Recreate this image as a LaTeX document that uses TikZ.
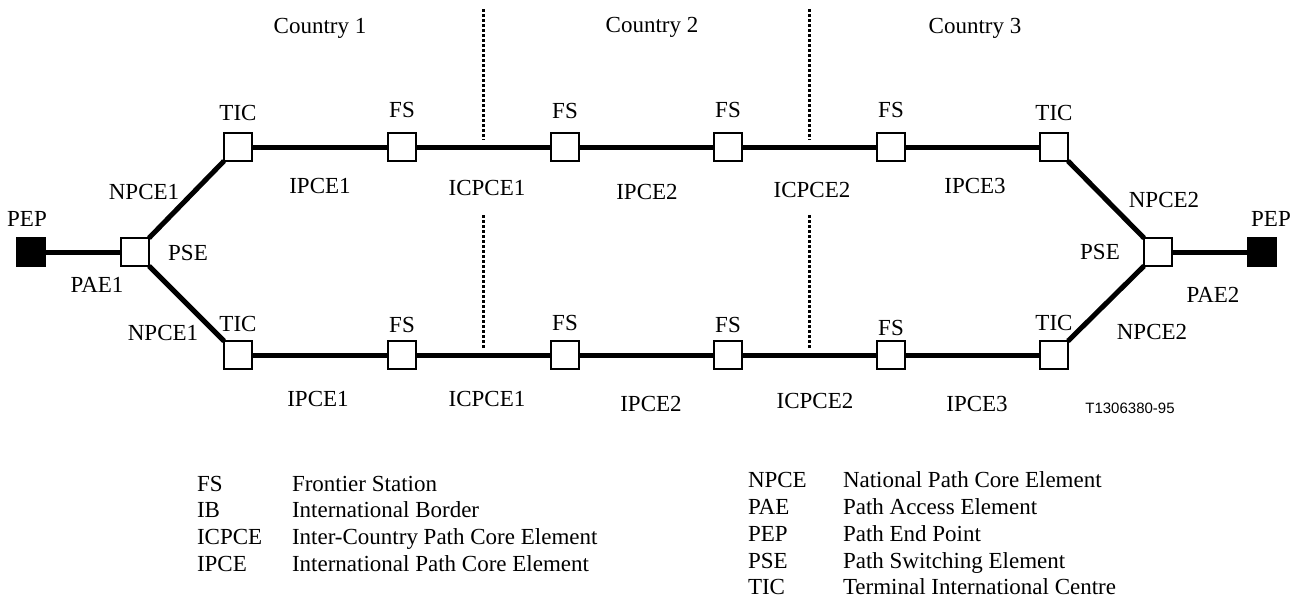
\documentclass[tikz,border=0pt]{standalone}
\usepackage{fontspec}
\setmainfont{Liberation Serif}
\newfontfamily\labsans{Liberation Sans}
\begin{document}
\begin{tikzpicture}[x=1pt,y=-1pt,
  every node/.style={inner sep=0pt,outer sep=0pt},
  txt/.style={font=\fontsize{23}{26}\selectfont},
  stn/.style={draw=black,fill=white,line width=2pt,minimum size=28pt},
  endpt/.style={draw=black,fill=black,line width=2pt,minimum size=28pt},
  pathline/.style={line width=5pt},
  border/.style={line width=3pt,dash pattern=on 3pt off 2pt},
  lgd/.style={font=\fontsize{23}{26}\selectfont,anchor=base west}]
\useasboundingbox (0,0) rectangle (1300,600);

% stations
\node[endpt] (pepL) at (31,252) {};
\node[stn] (pseL) at (135,252) {};
\node[stn] (ticTL) at (238,147) {};
\node[stn] (fsT1) at (402,147) {};
\node[stn] (fsT2) at (565,147) {};
\node[stn] (fsT3) at (728,147) {};
\node[stn] (fsT4) at (891,147) {};
\node[stn] (ticTR) at (1054,147) {};
\node[stn] (ticBL) at (238,355) {};
\node[stn] (fsB1) at (402,355) {};
\node[stn] (fsB2) at (565,355) {};
\node[stn] (fsB3) at (728,355) {};
\node[stn] (fsB4) at (891,355) {};
\node[stn] (ticBR) at (1054,355) {};
\node[stn] (pseR) at (1158,252) {};
\node[endpt] (pepR) at (1262,252) {};

% connectors
\draw[pathline] (pepL) -- (pseL);
\draw[pathline] (pseL.north east) -- (ticTL.south west);
\draw[pathline] (pseL.south east) -- (ticBL.north west);
\draw[pathline] (ticTL) -- (fsT1);
\draw[pathline] (fsT1) -- (fsT2);
\draw[pathline] (fsT2) -- (fsT3);
\draw[pathline] (fsT3) -- (fsT4);
\draw[pathline] (fsT4) -- (ticTR);
\draw[pathline] (ticBL) -- (fsB1);
\draw[pathline] (fsB1) -- (fsB2);
\draw[pathline] (fsB2) -- (fsB3);
\draw[pathline] (fsB3) -- (fsB4);
\draw[pathline] (fsB4) -- (ticBR);
\draw[pathline] (ticTR.south east) -- (pseR.north west);
\draw[pathline] (ticBR.north east) -- (pseR.south west);
\draw[pathline] (pseR) -- (pepR);

% borders
\coordinate (b1a) at (483,9);
\coordinate (b1b) at (483,140);
\coordinate (b1c) at (483,215);
\coordinate (b1d) at (483,348);
\coordinate (b2a) at (809,9);
\coordinate (b2b) at (809,140);
\coordinate (b2c) at (809,215);
\coordinate (b2d) at (809,348);
\draw[border] (b1a) -- (b1b);
\draw[border] (b1c) -- (b1d);
\draw[border] (b2a) -- (b2b);
\draw[border] (b2c) -- (b2d);

% country labels
\node[txt] (c1) at (320,28) {Country 1};
\node[txt] (c2) at (652,27) {Country 2};
\node[txt] (c3) at (975,28) {Country 3};

% top station labels
\node[txt] (lticTL) at (238,113) {TIC};
\node[txt] (lfsT1) at (402,110) {FS};
\node[txt] (lfsT2) at (565,111) {FS};
\node[txt] (lfsT3) at (728,110) {FS};
\node[txt] (lfsT4) at (891,110) {FS};
\node[txt] (lticTR) at (1054,113) {TIC};

% top segment labels
\node[txt] (sT1) at (320,186) {IPCE1};
\node[txt] (sT2) at (487,188) {ICPCE1};
\node[txt] (sT3) at (647,192) {IPCE2};
\node[txt] (sT4) at (812,190) {ICPCE2};
\node[txt] (sT5) at (975,186) {IPCE3};

% left labels
\node[txt] (lpepL) at (27,219) {PEP};
\node[txt] (lnpceTL) at (144,192) {NPCE1};
\node[txt] (lpseL) at (188,253) {PSE};
\node[txt] (lpaeL) at (97,285) {PAE1};
\node[txt] (lnpceBL) at (163,333) {NPCE1};

% right labels
\node[txt] (lnpceTR) at (1164,200) {NPCE2};
\node[txt] (lpepR) at (1271,219) {PEP};
\node[txt] (lpseR) at (1100,252) {PSE};
\node[txt] (lpaeR) at (1213,295) {PAE2};
\node[txt] (lnpceBR) at (1152,332) {NPCE2};

% bottom station labels
\node[txt] (lticBL) at (238,324) {TIC};
\node[txt] (lfsB1) at (402,325) {FS};
\node[txt] (lfsB2) at (565,323) {FS};
\node[txt] (lfsB3) at (728,325) {FS};
\node[txt] (lfsB4) at (891,328) {FS};
\node[txt] (lticBR) at (1054,323) {TIC};

% bottom segment labels
\node[txt] (sB1) at (318,399) {IPCE1};
\node[txt] (sB2) at (487,399) {ICPCE1};
\node[txt] (sB3) at (651,404) {IPCE2};
\node[txt] (sB4) at (815,401) {ICPCE2};
\node[txt] (sB5) at (977,404) {IPCE3};

\node[font=\labsans\fontsize{15}{17}\selectfont] (ref) at (1130,408) {T1306380-95};

% legend left
\node[lgd] (la1) at (197,491) {FS};
\node[lgd] (ld1) at (292,491) {Frontier Station};
\node[lgd] (la2) at (197,517) {IB};
\node[lgd] (ld2) at (292,517) {International Border};
\node[lgd] (la3) at (197,544) {ICPCE};
\node[lgd] (ld3) at (292,544) {Inter-Country Path Core Element};
\node[lgd] (la4) at (197,571) {IPCE};
\node[lgd] (ld4) at (292,571) {International Path Core Element};

% legend right
\node[lgd] (ra1) at (748,487) {NPCE};
\node[lgd] (rd1) at (843,487) {National Path Core Element};
\node[lgd] (ra2) at (748,514) {PAE};
\node[lgd] (rd2) at (843,514) {Path Access Element};
\node[lgd] (ra3) at (748,541) {PEP};
\node[lgd] (rd3) at (843,541) {Path End Point};
\node[lgd] (ra4) at (748,568) {PSE};
\node[lgd] (rd4) at (843,568) {Path Switching Element};
\node[lgd] (ra5) at (748,594) {TIC};
\node[lgd] (rd5) at (843,594) {Terminal International Centre};
\end{tikzpicture}
\end{document}
